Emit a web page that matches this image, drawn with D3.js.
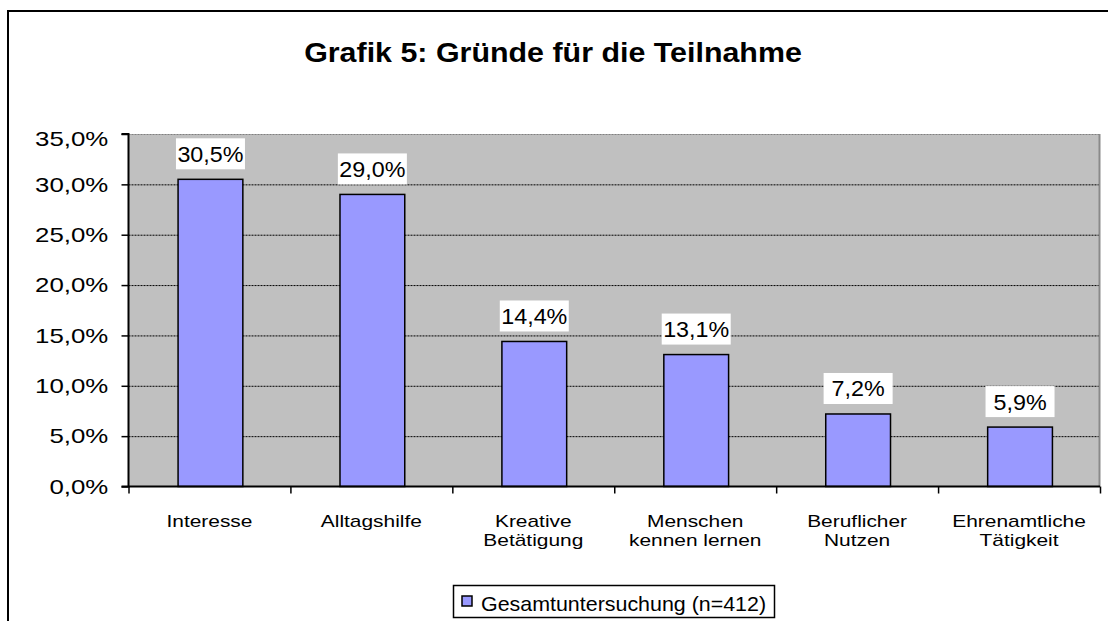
<!DOCTYPE html>
<html>
<head>
<meta charset="utf-8">
<script src="https://cdn.jsdelivr.net/npm/d3@7"></script>
<style>
  body { margin: 0; background: #fff; }
  svg { display: block; font-family: "Liberation Sans", Arial, sans-serif; }
</style>
</head>
<body>
<div class="svg-div"></div>
<script>
// data
const categories = [
  ["Interesse"],
  ["Alltagshilfe"],
  ["Kreative", "Betätigung"],
  ["Menschen", "kennen lernen"],
  ["Beruflicher", "Nutzen"],
  ["Ehrenamtliche", "Tätigkeit"]
];
const values = [30.5, 29.0, 14.4, 13.1, 7.2, 5.9];
const yTicks = [0, 5, 10, 15, 20, 25, 30, 35];
const seriesName = "Gesamtuntersuchung (n=412)";
const title = "Grafik 5: Gründe für die Teilnahme";

const svgWidth = 1108, svgHeight = 621;
const margin = {top: 134, left: 128.5};
let width = 1100 - margin.left;
let height = 486.5 - margin.top;

const fmt = v => v.toFixed(1).replace(".", ",") + "%";

let svg = d3.select(".svg-div").append("svg")
  .attr("width", svgWidth)
  .attr("height", svgHeight);

// outer frame
svg.append("rect")
  .attr("x", 8).attr("y", 11)
  .attr("width", 1200).attr("height", 700)
  .attr("fill", "#fff")
  .attr("stroke", "#000")
  .attr("stroke-width", 2);

svg.append("text")
  .attr("transform", "translate(553,62) scale(1.086,1)")
  .attr("text-anchor", "middle")
  .style("font-size", "28px")
  .style("font-weight", "bold")
  .text(title);

let g = svg.append("g")
  .attr("transform", "translate(" + margin.left + "," + margin.top + ")");

let x = d3.scaleBand()
  .domain(d3.range(categories.length))
  .range([0, width])
  .paddingInner(0.6)
  .paddingOuter(0.3);

let y = d3.scaleLinear()
  .domain([0, 35])
  .range([height, 0]);

// plot area
g.append("rect")
  .attr("width", width).attr("height", height)
  .attr("fill", "#c0c0c0");

g.append("g").selectAll("line")
  .data(yTicks.filter(d => d > 0 && d < 35))
  .enter().append("line")
  .attr("x1", 0).attr("x2", width)
  .attr("y1", d => y(d) + 0.5).attr("y2", d => y(d) + 0.5)
  .attr("stroke", "#000")
  .attr("stroke-width", 1)
  .attr("stroke-dasharray", "2,1");

g.append("line")
  .attr("x1", 0).attr("x2", width)
  .attr("y1", 0.5).attr("y2", 0.5)
  .attr("stroke", "#808080")
  .attr("stroke-dasharray", "2,1");
g.append("line")
  .attr("x1", width - 0.5).attr("x2", width - 0.5)
  .attr("y1", 0).attr("y2", height)
  .attr("stroke", "#8a8a8a")
  .attr("stroke-width", 2);

// bars
g.selectAll(".bar")
  .data(values)
  .enter().append("rect")
  .attr("class", "bar")
  .attr("x", (d, i) => x(i) + 1)
  .attr("y", d => y(d))
  .attr("width", x.bandwidth())
  .attr("height", d => height - y(d))
  .attr("fill", "#9999ff")
  .attr("stroke", "#000")
  .attr("stroke-width", 1.5);

// value labels
let lab = g.selectAll(".lab")
  .data(values)
  .enter().append("g")
  .attr("class", "lab")
  .attr("transform", (d, i) => "translate(" + (x(i) + 1 + x.bandwidth() / 2) + "," + (y(d) - 25.5) + ")");
lab.append("rect")
  .attr("x", -34.5).attr("y", -15.5)
  .attr("width", 69).attr("height", 31)
  .attr("fill", "#fff");
lab.append("text")
  .attr("transform", "scale(1.06,1)")
  .attr("text-anchor", "middle")
  .attr("dy", "0.36em")
  .style("font-size", "22px")
  .text(d => fmt(d));

// y axis
let yAxis = g.append("g")
  .call(d3.axisLeft(y).tickValues(yTicks).tickSize(7).tickFormat(fmt));
yAxis.attr("font-family", null);
yAxis.select(".domain").attr("stroke-width", 2).attr("d", "M-7,0H0V" + height + "H-7");
yAxis.selectAll(".tick line").attr("stroke-width", 1.5);
yAxis.selectAll(".tick text")
  .attr("x", 0)
  .attr("transform", d => "translate(-20.2," + (d === 35 ? 5 : 0) + ") scale(1.23,1)")
  .attr("fill", "#000")
  .style("font-size", "21px");

// x axis with ticks at category boundaries
let xb = d3.scaleLinear().domain([0, categories.length]).range([0, width]);
let xAxis = g.append("g")
  .attr("transform", "translate(0," + height + ")")
  .call(d3.axisBottom(xb).ticks(categories.length).tickSize(7).tickFormat(""));
xAxis.select(".domain").attr("stroke-width", 2).attr("d", "M0,0H" + width);
xAxis.selectAll(".tick line").attr("stroke-width", 1.5);

let xl = g.append("g").selectAll("text")
  .data(categories)
  .enter().append("text")
  .attr("transform", (d, i) => "translate(" + xb(i + 0.5) + "," + (height + 40.8) + ") scale(1.23,1)")
  .attr("text-anchor", "middle")
  .style("font-size", "17px");
xl.selectAll("tspan")
  .data(d => d)
  .enter().append("tspan")
  .attr("x", 0)
  .attr("dy", (d, i) => i === 0 ? 0 : 18.5)
  .text(d => d);

// legend
let leg = svg.append("g").attr("transform", "translate(453.5,585.5)");
leg.append("rect")
  .attr("width", 321).attr("height", 32)
  .attr("fill", "#fff").attr("stroke", "#000").attr("stroke-width", 1.5);
leg.append("rect")
  .attr("x", 8.5).attr("y", 10.5)
  .attr("width", 10).attr("height", 10)
  .attr("fill", "#9999ff").attr("stroke", "#000").attr("stroke-width", 1.5);
leg.append("text")
  .attr("transform", "translate(27.5,25) scale(1.02,1)")
  .style("font-size", "21px")
  .text(seriesName);
</script>
</body>
</html>
